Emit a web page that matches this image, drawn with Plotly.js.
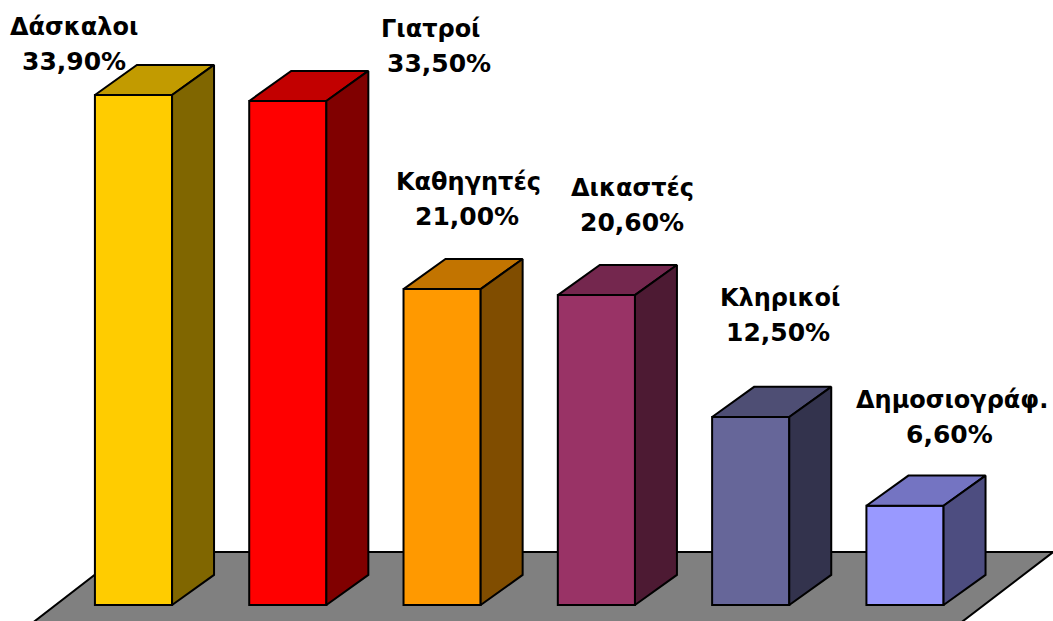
<!DOCTYPE html>
<html>
<head>
<meta charset="utf-8">
<script src="https://cdn.plot.ly/plotly-3.0.1.min.js"></script>
<style>html,body{margin:0;padding:0;background:#fff;}#chart{width:1053px;height:621px;}</style>
</head>
<body>
<div id="chart"></div>
<script>
// ---- data ----
const categories = ['Δάσκαλοι', 'Γιατροί', 'Καθηγητές', 'Δικαστές', 'Κληρικοί', 'Δημοσιογράφ.'];
const values = [33.9, 33.5, 21.0, 20.6, 12.5, 6.6];
const valueLabels = ['33,90%', '33,50%', '21,00%', '20,60%', '12,50%', '6,60%'];

// ---- style ----
const frontColors = ['#FFCC00', '#FF0000', '#FF9900', '#993366', '#666699', '#9999FF'];
const nameXShift = [-80, 122, 5, 15, 8, 26];
const valueXShift = [-80, 130, 4, 15, 6, 24];
const valueYShift = [-13, -9, 26, 26, 38, 25];
const linePitch = 35;
const barWidth = 0.5;
const depthX = 0.272;   // 3D depth in category units
const depthY = 2.0;     // 3D depth in value units

function shade(hex, f) {
  const n = parseInt(hex.slice(1), 16);
  const r = Math.round(((n >> 16) & 255) * f), g = Math.round(((n >> 8) & 255) * f), b = Math.round((n & 255) * f);
  return 'rgb(' + r + ',' + g + ',' + b + ')';
}

const xs = categories.map((c, i) => i);
const traces = [];

// front faces
traces.push({
  type: 'bar', x: xs, y: values, width: barWidth,
  marker: {color: frontColors, line: {color: '#000', width: 2}},
  hoverinfo: 'skip', showlegend: false
});

// top and side faces
values.forEach((v, i) => {
  const l = i - barWidth / 2, r = i + barWidth / 2;
  traces.push({
    type: 'scatter', mode: 'lines', fill: 'toself',
    x: [l, r, r + depthX, l + depthX, l],
    y: [v, v, v + depthY, v + depthY, v],
    fillcolor: shade(frontColors[i], 0.76),
    line: {color: '#000', width: 2}, hoverinfo: 'skip', showlegend: false
  });
  traces.push({
    type: 'scatter', mode: 'lines', fill: 'toself',
    x: [r, r + depthX, r + depthX, r, r],
    y: [0, depthY, v + depthY, v, 0],
    fillcolor: shade(frontColors[i], 0.5),
    line: {color: '#000', width: 2}, hoverinfo: 'skip', showlegend: false
  });
});

// floor (decoration, relative to category span)
const n = categories.length;
const floorFrontY = -1.27, floorBackY = 3.52;
const floorPath = 'M ' + (-0.665) + ' ' + floorFrontY +
  ' L ' + (-0.06) + ' ' + floorBackY +
  ' L ' + (n - 1 + 0.96) + ' ' + floorBackY +
  ' L ' + (n - 1 + 0.35) + ' ' + floorFrontY + ' Z';

const nameFont = {family: 'DejaVu Sans, Verdana, sans-serif', size: 24, color: '#000', weight: 'bold'};
const valueFont = {family: 'DejaVu Sans, Verdana, sans-serif', size: 25, color: '#000', weight: 'bold'};
const annotations = [];
values.forEach((v, i) => {
  annotations.push({
    xref: 'x', yref: 'y', x: i + depthX / 2, y: v + depthY,
    xanchor: 'center', yanchor: 'bottom', text: categories[i], showarrow: false,
    xshift: nameXShift[i], yshift: valueYShift[i] + linePitch, font: nameFont
  });
  annotations.push({
    xref: 'x', yref: 'y', x: i + depthX / 2, y: v + depthY,
    xanchor: 'center', yanchor: 'bottom', text: valueLabels[i], showarrow: false,
    xshift: valueXShift[i], yshift: valueYShift[i], font: valueFont
  });
});

const layout = {
  width: 1053, height: 621,
  margin: {l: 0, r: 0, t: 0, b: 0},
  paper_bgcolor: '#fff', plot_bgcolor: '#fff',
  showlegend: false,
  xaxis: {range: [-0.8652, 5.9592], visible: false, fixedrange: true},
  yaxis: {range: [-1.0636, 40.215], visible: false, fixedrange: true},
  shapes: [{type: 'path', xref: 'x', yref: 'y', path: floorPath, layer: 'below',
    fillcolor: '#808080', line: {color: '#000', width: 2}}],
  annotations: annotations
};

Plotly.newPlot('chart', traces, layout, {staticPlot: true, displayModeBar: false});
</script>
</body>
</html>
